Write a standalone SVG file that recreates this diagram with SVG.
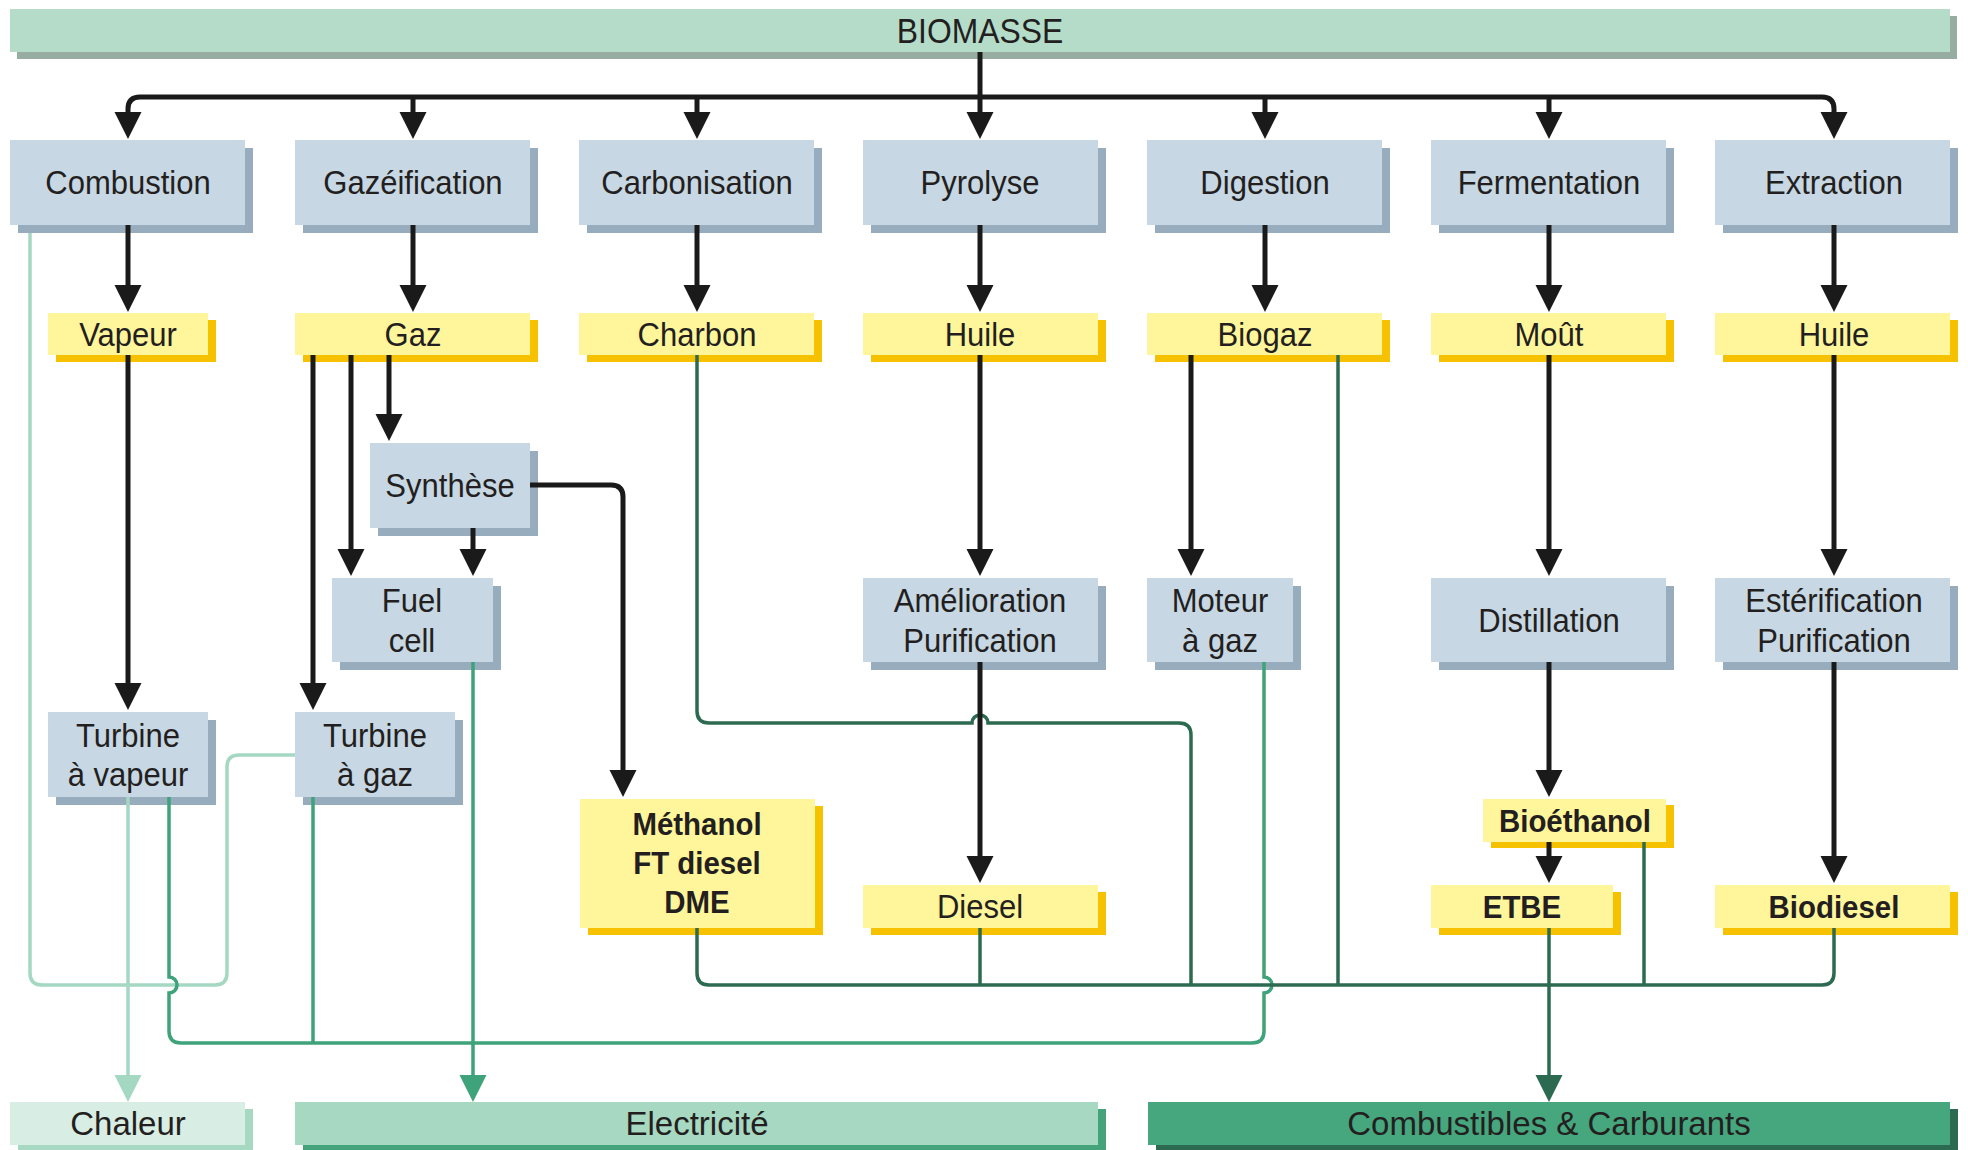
<svg xmlns="http://www.w3.org/2000/svg" width="1968" height="1150" viewBox="0 0 1968 1150">
<style>
text{font-family:"Liberation Sans",Arial,sans-serif;fill:#231f20;text-anchor:middle;transform-box:fill-box;transform-origin:center}
.t{font-size:33px;transform:scaleX(0.94)}
.tb{font-size:31px;font-weight:bold;transform:scaleX(0.95)}
.tt{font-size:33px}
.th{font-size:35px;transform:scaleX(0.91)}
.pb{fill:#c7d7e3}.ps{fill:#97acbd}
.yb{fill:#fff69b}.ys{fill:#f6c200}
.blk{fill:none;stroke:#1a1a1a;stroke-width:5}
.dg{fill:none;stroke:#2c6b52;stroke-width:3.5}
.mg{fill:none;stroke:#3ea27a;stroke-width:3.5}
.lg{fill:none;stroke:#a4d8c2;stroke-width:3.5}
</style>
<defs>
<marker id="ab" markerUnits="userSpaceOnUse" markerWidth="28" markerHeight="28" refX="17" refY="13.5" orient="auto"><path d="M0,0 L27,13.5 L0,27 Z" fill="#1a1a1a"/></marker>
<marker id="adg" markerUnits="userSpaceOnUse" markerWidth="28" markerHeight="28" refX="17" refY="13.5" orient="auto"><path d="M0,0 L27,13.5 L0,27 Z" fill="#2c6b52"/></marker>
<marker id="amg" markerUnits="userSpaceOnUse" markerWidth="28" markerHeight="28" refX="17" refY="13.5" orient="auto"><path d="M0,0 L27,13.5 L0,27 Z" fill="#3ea27a"/></marker>
<marker id="alg" markerUnits="userSpaceOnUse" markerWidth="28" markerHeight="28" refX="17" refY="13.5" orient="auto"><path d="M0,0 L27,13.5 L0,27 Z" fill="#a4d8c2"/></marker>
</defs>
<rect width="1968" height="1150" fill="#ffffff"/>

<g id="biomasse"><rect x="17" y="16" width="1940" height="43" fill="#97ada1"/><rect x="10" y="9" width="1940" height="43" fill="#b4dcc9"/><text class="th" x="980" y="43">BIOMASSE</text></g>

<g id="combustion"><rect class="ps" x="18" y="148" width="235" height="85"/><rect class="pb" x="10" y="140" width="235" height="85"/><text class="t" x="128" y="194">Combustion</text></g>
<g id="gazeification"><rect class="ps" x="303" y="148" width="235" height="85"/><rect class="pb" x="295" y="140" width="235" height="85"/><text class="t" x="413" y="194">Gazéification</text></g>
<g id="carbonisation"><rect class="ps" x="587" y="148" width="235" height="85"/><rect class="pb" x="579" y="140" width="235" height="85"/><text class="t" x="697" y="194">Carbonisation</text></g>
<g id="pyrolyse"><rect class="ps" x="871" y="148" width="235" height="85"/><rect class="pb" x="863" y="140" width="235" height="85"/><text class="t" x="980" y="194">Pyrolyse</text></g>
<g id="digestion"><rect class="ps" x="1155" y="148" width="235" height="85"/><rect class="pb" x="1147" y="140" width="235" height="85"/><text class="t" x="1265" y="194">Digestion</text></g>
<g id="fermentation"><rect class="ps" x="1439" y="148" width="235" height="85"/><rect class="pb" x="1431" y="140" width="235" height="85"/><text class="t" x="1549" y="194">Fermentation</text></g>
<g id="extraction"><rect class="ps" x="1723" y="148" width="235" height="85"/><rect class="pb" x="1715" y="140" width="235" height="85"/><text class="t" x="1834" y="194">Extraction</text></g>

<g id="vapeur"><rect class="ys" x="56" y="320" width="160" height="42"/><rect class="yb" x="48" y="313" width="160" height="42"/><text class="t" x="128" y="346">Vapeur</text></g>
<g id="gaz"><rect class="ys" x="303" y="320" width="235" height="42"/><rect class="yb" x="295" y="313" width="235" height="42"/><text class="t" x="413" y="346">Gaz</text></g>
<g id="charbon"><rect class="ys" x="587" y="320" width="235" height="42"/><rect class="yb" x="579" y="313" width="235" height="42"/><text class="t" x="697" y="346">Charbon</text></g>
<g id="huile1"><rect class="ys" x="871" y="320" width="235" height="42"/><rect class="yb" x="863" y="313" width="235" height="42"/><text class="t" x="980" y="346">Huile</text></g>
<g id="biogaz"><rect class="ys" x="1155" y="320" width="235" height="42"/><rect class="yb" x="1147" y="313" width="235" height="42"/><text class="t" x="1265" y="346">Biogaz</text></g>
<g id="mout"><rect class="ys" x="1439" y="320" width="235" height="42"/><rect class="yb" x="1431" y="313" width="235" height="42"/><text class="t" x="1549" y="346">Moût</text></g>
<g id="huile2"><rect class="ys" x="1723" y="320" width="235" height="42"/><rect class="yb" x="1715" y="313" width="235" height="42"/><text class="t" x="1834" y="346">Huile</text></g>

<g id="synthese"><rect class="ps" x="378" y="451" width="160" height="85"/><rect class="pb" x="370" y="443" width="160" height="85"/><text class="t" x="450" y="497">Synthèse</text></g>
<g id="fuelcell"><rect class="ps" x="340" y="586" width="161" height="84"/><rect class="pb" x="332" y="578" width="161" height="84"/><text class="t" x="412" y="612">Fuel</text><text class="t" x="412" y="652">cell</text></g>
<g id="amelioration"><rect class="ps" x="871" y="586" width="235" height="84"/><rect class="pb" x="863" y="578" width="235" height="84"/><text class="t" x="980" y="612">Amélioration</text><text class="t" x="980" y="652">Purification</text></g>
<g id="moteur"><rect class="ps" x="1155" y="586" width="146" height="84"/><rect class="pb" x="1147" y="578" width="146" height="84"/><text class="t" x="1220" y="612">Moteur</text><text class="t" x="1220" y="652">à gaz</text></g>
<g id="distillation"><rect class="ps" x="1439" y="586" width="235" height="84"/><rect class="pb" x="1431" y="578" width="235" height="84"/><text class="t" x="1549" y="632">Distillation</text></g>
<g id="esterification"><rect class="ps" x="1723" y="586" width="235" height="84"/><rect class="pb" x="1715" y="578" width="235" height="84"/><text class="t" x="1834" y="612">Estérification</text><text class="t" x="1834" y="652">Purification</text></g>

<g id="turbinevapeur"><rect class="ps" x="56" y="720" width="160" height="85"/><rect class="pb" x="48" y="712" width="160" height="85"/><text class="t" x="128" y="747">Turbine</text><text class="t" x="128" y="786">à vapeur</text></g>
<g id="turbinegaz"><rect class="ps" x="303" y="720" width="160" height="85"/><rect class="pb" x="295" y="712" width="160" height="85"/><text class="t" x="375" y="747">Turbine</text><text class="t" x="375" y="786">à gaz</text></g>

<g id="methanol"><rect class="ys" x="588" y="806" width="235" height="129"/><rect class="yb" x="580" y="799" width="235" height="129"/><text class="tb" x="697" y="835">Méthanol</text><text class="tb" x="697" y="874">FT diesel</text><text class="tb" x="697" y="913">DME</text></g>
<g id="diesel"><rect class="ys" x="871" y="892" width="235" height="43"/><rect class="yb" x="863" y="885" width="235" height="43"/><text class="t" x="980" y="918">Diesel</text></g>
<g id="bioethanol"><rect class="ys" x="1491" y="805" width="183" height="43"/><rect class="yb" x="1483" y="799" width="183" height="43"/><text class="tb" x="1575" y="832">Bioéthanol</text></g>
<g id="etbe"><rect class="ys" x="1439" y="892" width="182" height="43"/><rect class="yb" x="1431" y="885" width="182" height="43"/><text class="tb" x="1522" y="918">ETBE</text></g>
<g id="biodiesel"><rect class="ys" x="1723" y="892" width="235" height="43"/><rect class="yb" x="1715" y="885" width="235" height="43"/><text class="tb" x="1834" y="918">Biodiesel</text></g>

<g id="chaleur"><rect x="18" y="1109" width="235" height="43" fill="#a7d8c1"/><rect x="10" y="1102" width="235" height="43" fill="#d8ede3"/><text class="tt" x="128" y="1135">Chaleur</text></g>
<g id="electricite"><rect x="303" y="1109" width="803" height="43" fill="#45a37c"/><rect x="295" y="1102" width="803" height="43" fill="#a7d8c1"/><text class="tt" x="697" y="1135">Electricité</text></g>
<g id="combustibles"><rect x="1156" y="1109" width="802" height="43" fill="#2c6b52"/><rect x="1148" y="1102" width="802" height="43" fill="#46a67e"/><text class="tt" x="1549" y="1135">Combustibles &amp; Carburants</text></g>

<g id="connectors">
<path class="lg" d="M30,233 V973 Q30,985 42,985 H215 Q227,985 227,973 V767 Q227,755 239,755 H295"/>
<path class="lg" d="M128,797 V1092" marker-end="url(#alg)"/>
<path class="mg" d="M313,797 V1043"/>
<path class="mg" d="M1264,662 V977 A8,8 0 0 1 1264,993 V1031 Q1264,1043 1252,1043 H181 Q169,1043 169,1031 V993 A8,8 0 0 0 169,977 V797"/>
<path class="mg" d="M473,662 V1092" marker-end="url(#amg)"/>
<path class="dg" d="M697,355 V711 Q697,723 709,723 H972 A8,8 0 0 1 988,723 H1179 Q1191,723 1191,735 V985"/>
<path class="dg" d="M697,928 V973 Q697,985 709,985 H1822 Q1834,985 1834,973 V928"/>
<path class="dg" d="M980,928 V985 M1338,355 V985 M1644,842 V985"/>
<path class="dg" d="M1549,928 V1092" marker-end="url(#adg)"/>
<path class="blk" d="M980,52 V129" marker-end="url(#ab)"/>
<path class="blk" d="M980,97 H140 Q128,97 128,109 V129" marker-end="url(#ab)"/>
<path class="blk" d="M980,97 H1822 Q1834,97 1834,109 V129" marker-end="url(#ab)"/>
<path class="blk" d="M413,97 V129" marker-end="url(#ab)"/>
<path class="blk" d="M697,97 V129" marker-end="url(#ab)"/>
<path class="blk" d="M1265,97 V129" marker-end="url(#ab)"/>
<path class="blk" d="M1549,97 V129" marker-end="url(#ab)"/>
<path class="blk" d="M128,225 V302" marker-end="url(#ab)"/>
<path class="blk" d="M413,225 V302" marker-end="url(#ab)"/>
<path class="blk" d="M697,225 V302" marker-end="url(#ab)"/>
<path class="blk" d="M980,225 V302" marker-end="url(#ab)"/>
<path class="blk" d="M1265,225 V302" marker-end="url(#ab)"/>
<path class="blk" d="M1549,225 V302" marker-end="url(#ab)"/>
<path class="blk" d="M1834,225 V302" marker-end="url(#ab)"/>
<path class="blk" d="M128,355 V700" marker-end="url(#ab)"/>
<path class="blk" d="M313,355 V700" marker-end="url(#ab)"/>
<path class="blk" d="M351,355 V566" marker-end="url(#ab)"/>
<path class="blk" d="M389,355 V431" marker-end="url(#ab)"/>
<path class="blk" d="M473,528 V566" marker-end="url(#ab)"/>
<path class="blk" d="M530,485 H611 Q623,485 623,497 V787" marker-end="url(#ab)"/>
<path class="blk" d="M980,355 V566" marker-end="url(#ab)"/>
<path class="blk" d="M980,662 V873" marker-end="url(#ab)"/>
<path class="blk" d="M1191,355 V566" marker-end="url(#ab)"/>
<path class="blk" d="M1549,355 V566" marker-end="url(#ab)"/>
<path class="blk" d="M1549,662 V787" marker-end="url(#ab)"/>
<path class="blk" d="M1549,842 V873" marker-end="url(#ab)"/>
<path class="blk" d="M1834,355 V566" marker-end="url(#ab)"/>
<path class="blk" d="M1834,662 V873" marker-end="url(#ab)"/>
</g>
</svg>
